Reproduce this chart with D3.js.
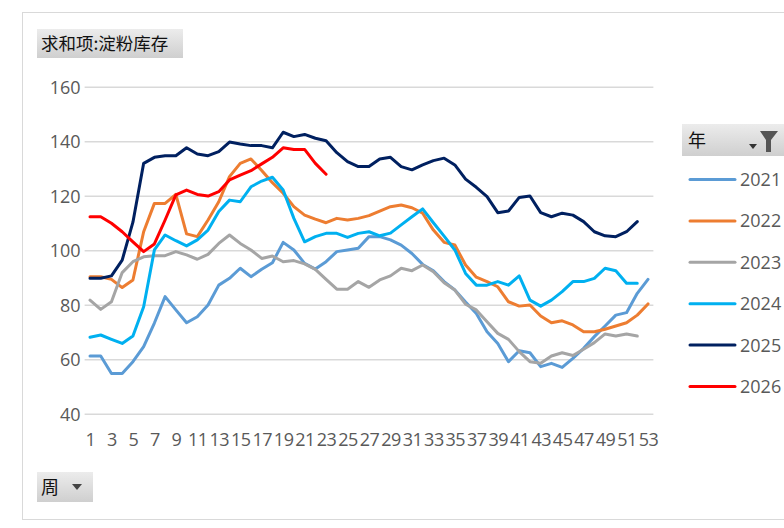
<!DOCTYPE html>
<html>
<head>
<meta charset="utf-8">
<script src="https://cdn.jsdelivr.net/npm/d3@7"></script>
<style>
  html, body { margin: 0; padding: 0; background: #fff; }
  svg { display: block; font-family: "Open Sans", "Noto Sans", sans-serif; }
</style>
</head>
<body>
<div id="chart"></div>
<script>
// 数据：每周淀粉库存（按年份）
const weeks = d3.range(1, 54);
const years = ["2021", "2022", "2023", "2024", "2025", "2026"];
const colors = ["#5B9BD5", "#ED7D31", "#A5A5A5", "#00B0F0", "#002060", "#FF0000"];
const yTicks = [40, 60, 80, 100, 120, 140, 160];
const xTickLabels = weeks.filter(w => w % 2 === 1);

const s2021 = [61.4, 61.4, 55, 55, 59.3, 64.8, 73.5, 83.2, 78.3, 73.6, 75.8, 80.1, 87.4, 89.9, 93.6, 90.5, 93.2, 95.6,
  103.1, 100.3, 95.4, 93.3, 96, 99.7, 100.3, 100.9, 105.2, 105.2, 104, 102.1, 99, 95, 92.7, 88.7, 85.6, 81.2, 77, 70.3,
  66, 59.3, 63.3, 62.6, 57.5, 58.7, 57.2, 60.5, 64.2, 68.5, 72.4, 76.4, 77.3, 84.4, 89.5];
const s2022 = [90.5, 90.5, 89.5, 86.5, 89.3, 107, 117.4, 117.4, 120.7, 106.2, 105.2, 111.3, 118, 127.2, 132.1, 133.7,
  129.5, 125, 121.1, 116.2, 113.1, 111.6, 110.3, 111.9, 111.3, 111.9, 112.9, 114.6, 116.2, 116.8, 115.8, 113.8, 107.6,
  103.1, 102.1, 94.8, 90.3, 88.7, 86.8, 81.3, 79.7, 80.1, 76.1, 73.6, 74.3, 72.8, 70.3, 70.3, 71.2, 72.4, 73.6, 76.4, 80.5];
const s2023 = [81.9, 78.5, 81.3, 92, 96, 97.8, 98.2, 98.2, 99.7, 98.5, 96.9, 98.7, 102.7, 105.8, 102.7, 100.3, 97.2, 98.1,
  96, 96.4, 95.2, 93.2, 89.5, 85.9, 85.9, 88.7, 86.6, 89.3, 90.8, 93.6, 92.7, 94.8, 92.3, 88.3, 85.6, 80.4, 78.3, 74,
  69.7, 67.5, 63, 59.3, 58.7, 61.4, 62.6, 61.6, 63.9, 66.3, 69.5, 68.7, 69.5, 68.7];
const s2024 = [68.3, 69.1, 67.5, 66, 68.7, 79.5, 100.3, 105.8, 103.7, 101.8, 104, 107.6, 114.4, 118.6, 118, 123.5, 125.6,
  127, 122.3, 111.9, 103.3, 105.2, 106.4, 106.4, 104.9, 106.4, 107, 105.5, 106.5, 109.5, 112.5, 115.4, 110.3, 105.4,
  100.3, 91.7, 87.4, 87.4, 88.7, 87.4, 90.8, 81.9, 79.7, 81.9, 85, 88.7, 88.7, 89.9, 93.6, 92.7, 88.1, 88.1];
const s2025 = [89.9, 89.9, 90.8, 96.6, 110.5, 132.1, 134.3, 134.9, 134.9, 137.8, 135.5, 134.9, 136.4, 139.9, 139.2, 138.6,
  138.6, 137.8, 143.5, 141.9, 142.7, 141.3, 140.4, 136, 132.7, 130.9, 130.9, 133.7, 134.3, 130.9, 129.7, 131.5, 133.1,
  134, 131.5, 126.3, 123.3, 119.9, 114, 114.6, 119.6, 120.1, 114, 112.5, 113.8, 113.1, 110.7, 107, 105.5, 105.2, 107, 110.7];
const s2026 = [112.5, 112.5, 110.1, 107, 103.3, 99.7, 102.5, 111.3, 120.5, 122.3, 120.7, 120.1, 121.7, 126, 127.8, 129.4,
  131.9, 134.3, 137.8, 137.2, 137.2, 132.1, 128.1];

const seriesValues = [s2021, s2022, s2023, s2024, s2025, s2026];

const W = 784, H = 528;
const svg = d3.select("#chart").append("svg")
    .attr("width", W)
    .attr("height", H);

const defs = svg.append("defs");
const grad = defs.append("linearGradient")
    .attr("id", "btn").attr("x1", 0).attr("y1", 0).attr("x2", 0).attr("y2", 1);
grad.append("stop").attr("offset", "0%").attr("stop-color", "#ececec");
grad.append("stop").attr("offset", "100%").attr("stop-color", "#cfcfcf");

// 外框
svg.append("rect")
    .attr("x", 22.5).attr("y", 12.5)
    .attr("width", 800).attr("height", 507)
    .attr("fill", "none")
    .attr("stroke", "#d9d9d9");

// 坐标
const x = d3.scalePoint().domain(weeks).range([90, 648]);
const y = d3.scaleLinear().domain([40, 160]).range([414.3, 87.3]);
const half = x.step() / 2;

// 网格线
svg.append("g")
  .selectAll("line")
  .data(yTicks)
  .join("line")
    .attr("x1", 90 - half)
    .attr("x2", 648 + half)
    .attr("y1", d => y(d))
    .attr("y2", d => y(d))
    .attr("stroke", "#d9d9d9")
    .attr("stroke-width", 1.5);

// Y 轴
const yAxis = svg.append("g")
    .attr("transform", `translate(${90 - half},0)`)
    .call(d3.axisLeft(y).tickValues(yTicks).tickSize(0).tickPadding(4));
yAxis.select(".domain").remove();
yAxis.selectAll("text")
    .attr("fill", "#595959")
    .style("font-size", "18px")
    .style("font-family", "'Open Sans', sans-serif");

// X 轴
const xAxis = svg.append("g")
    .attr("transform", `translate(0,${y(40)})`)
    .call(d3.axisBottom(x).tickValues(xTickLabels).tickSize(0).tickPadding(19));
xAxis.select(".domain").remove();
xAxis.selectAll("text")
    .attr("fill", "#595959")
    .style("font-size", "18px")
    .style("font-family", "'Open Sans', sans-serif")
    .attr("letter-spacing", "-0.5px");

// 折线
const line = d3.line()
    .x((d, i) => x(weeks[i]))
    .y(d => y(d));

svg.append("g")
  .selectAll("path")
  .data(seriesValues)
  .join("path")
    .attr("d", d => line(d))
    .attr("fill", "none")
    .attr("stroke", (d, i) => colors[i])
    .attr("stroke-width", 3)
    .attr("stroke-linejoin", "round")
    .attr("stroke-linecap", "round");

// 标题按钮
svg.append("rect")
    .attr("x", 37).attr("y", 29).attr("width", 146).attr("height", 29)
    .attr("fill", "url(#btn)");
svg.append("text")
    .attr("x", 41).attr("y", 50)
    .attr("fill", "#111")
    .style("font-family", "'Noto Sans CJK SC', sans-serif")
    .style("font-size", "17.5px")
    .text("求和项:淀粉库存");

// 图例标题
svg.append("rect")
    .attr("x", 682).attr("y", 124).attr("width", 110).attr("height", 32)
    .attr("fill", "url(#btn)");
svg.append("text")
    .attr("x", 688).attr("y", 147)
    .attr("fill", "#111")
    .style("font-family", "'Noto Sans CJK SC', sans-serif")
    .style("font-size", "18px")
    .text("年");
svg.append("path")
    .attr("d", "M749,144 L757,144 L753,149 Z")
    .attr("fill", "#333");
svg.append("path")
    .attr("d", "M760,131 L778,131 L771,140 L771,152 L766,152 L766,140 Z")
    .attr("fill", "#555");

// 图例
const legend = svg.append("g")
  .selectAll("g")
  .data(years)
  .join("g")
    .attr("transform", (d, i) => `translate(0,${179.5 + i * 41.4})`);
legend.append("line")
    .attr("x1", 690).attr("x2", 735)
    .attr("stroke", (d, i) => colors[i])
    .attr("stroke-width", 3)
    .attr("stroke-linecap", "round");
legend.append("text")
    .attr("x", 740).attr("dy", "0.36em")
    .attr("fill", "#595959")
    .style("font-size", "18px")
    .text(d => d);

// 周 按钮
svg.append("rect")
    .attr("x", 37).attr("y", 472).attr("width", 56).attr("height", 30)
    .attr("fill", "url(#btn)");
svg.append("text")
    .attr("x", 41).attr("y", 494)
    .attr("fill", "#111")
    .style("font-family", "'Noto Sans CJK SC', sans-serif")
    .style("font-size", "18px")
    .text("周");
svg.append("path")
    .attr("d", "M72,484 L82,484 L77,490 Z")
    .attr("fill", "#444");
</script>
</body>
</html>
